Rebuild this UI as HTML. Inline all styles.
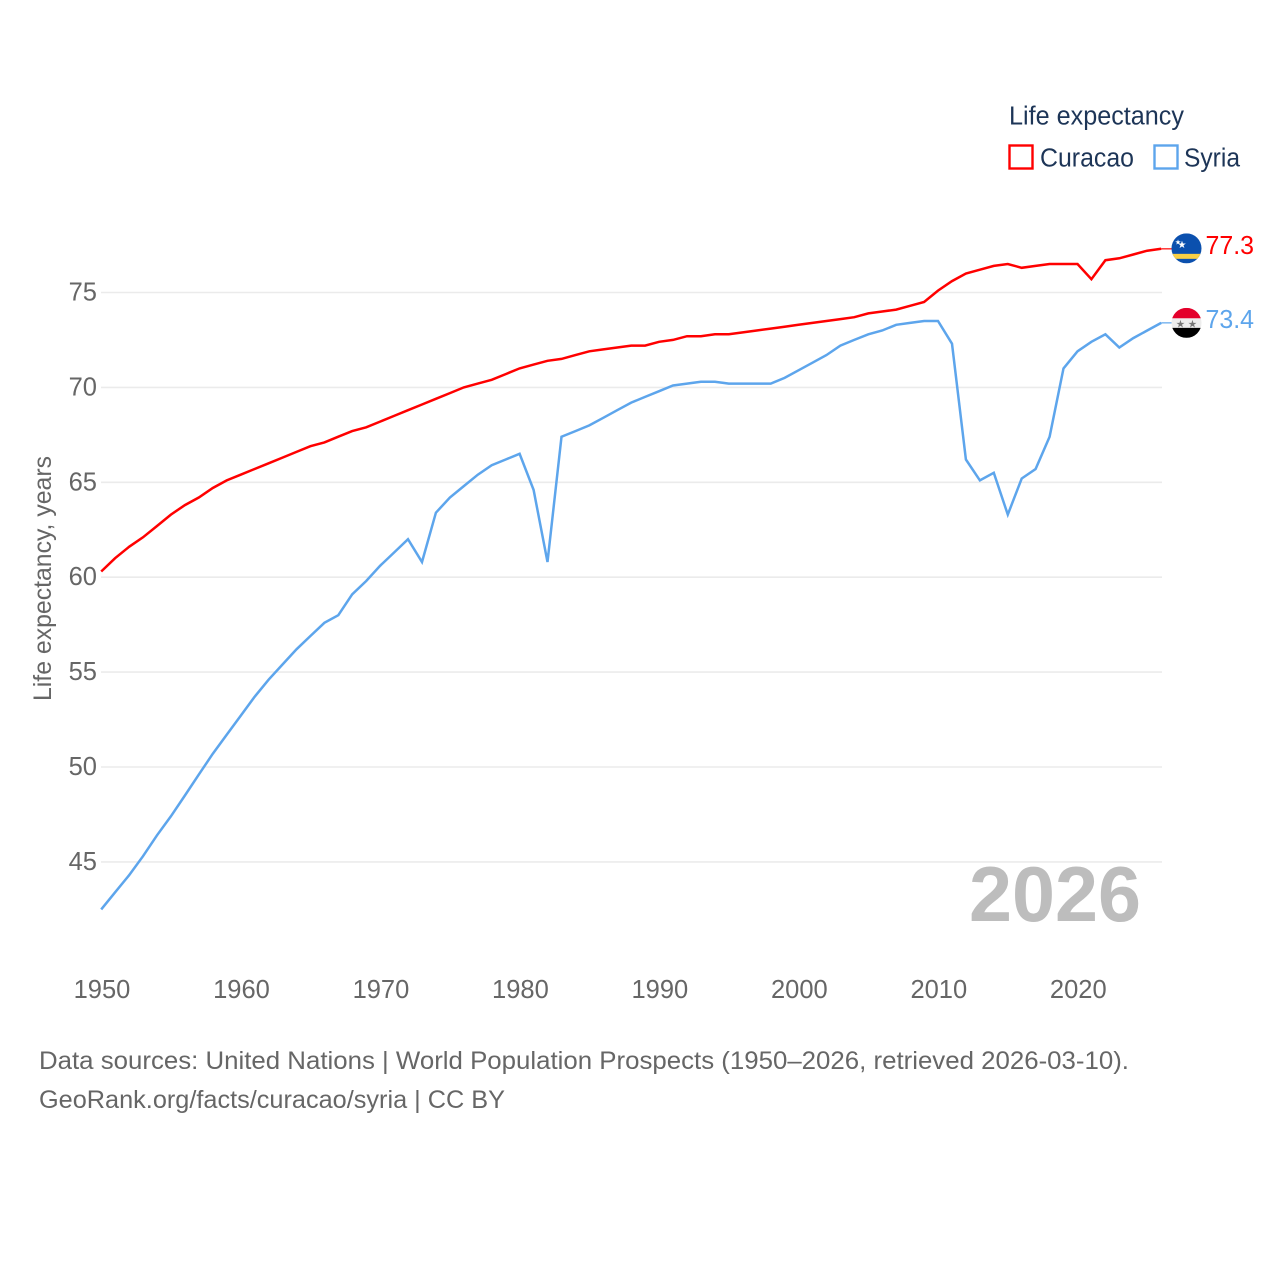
<!DOCTYPE html>
<html lang="en">
<head>
<meta charset="utf-8">
<title>Life expectancy: Curacao and Syria</title>
<style>
html,body{margin:0;padding:0;background:#fff}
svg{display:block}
text{font-family:"Liberation Sans",sans-serif}
</style>
</head>
<body>
<svg id="chart" xmlns="http://www.w3.org/2000/svg" width="1280" height="1280" viewBox="0 0 1280 1280">
  <rect width="1280" height="1280" fill="#fff"/>
  <g id="grid"></g>
  <g id="yticks"></g>
  <g id="xticks"></g>
  <text transform="translate(51,578.5) rotate(-90)" text-anchor="middle" font-size="25" fill="#666" textLength="245" lengthAdjust="spacingAndGlyphs">Life expectancy, years</text>
  <text x="969" y="921" font-size="78" font-weight="700" fill="#bdbdbd" textLength="172" lengthAdjust="spacingAndGlyphs">2026</text>
  <g id="series"></g>

  <g>
    <text x="1009" y="124.5" font-size="25.5" fill="#1d3557" textLength="175" lengthAdjust="spacingAndGlyphs">Life expectancy</text>
    <rect x="1009.5" y="145.5" width="23" height="23" fill="none" stroke="#ff0000" stroke-width="2.4"/>
    <text x="1040" y="166.5" font-size="25.5" fill="#1d3557" textLength="94" lengthAdjust="spacingAndGlyphs">Curacao</text>
    <rect x="1154.5" y="145.5" width="23" height="23" fill="none" stroke="#5da5ec" stroke-width="2.4"/>
    <text x="1184" y="166.5" font-size="25.5" fill="#1d3557" textLength="56" lengthAdjust="spacingAndGlyphs">Syria</text>
  </g>

  <defs>
    <clipPath id="flag-clip-a"><circle cx="0" cy="0" r="15"/></clipPath>
  </defs>

  <g id="flag-curacao">
    <g clip-path="url(#flag-clip-a)">
      <rect x="-15" y="-15" width="30" height="30" fill="#0b50ae"/>
      <rect x="-15" y="5.5" width="30" height="5" fill="#f9d045"/>
      <text x="-4.5" y="-0.5" font-size="10" text-anchor="middle" fill="#fff" style="font-family:'DejaVu Sans',sans-serif">★</text>
      <text x="-8.5" y="-4" font-size="7" text-anchor="middle" fill="#fff" style="font-family:'DejaVu Sans',sans-serif">★</text>
    </g>
  </g>
  <g id="flag-syria">
    <g clip-path="url(#flag-clip-a)">
      <rect x="-15" y="-15" width="30" height="10.5" fill="#e4002b"/>
      <rect x="-15" y="-4.5" width="30" height="10" fill="#ededed"/>
      <rect x="-15" y="5" width="30" height="10" fill="#000"/>
      <text x="-6" y="4.5" font-size="10.5" text-anchor="middle" fill="#777" style="font-family:'DejaVu Sans',sans-serif">★</text>
      <text x="6" y="4.5" font-size="10.5" text-anchor="middle" fill="#777" style="font-family:'DejaVu Sans',sans-serif">★</text>
    </g>
  </g>
  <text id="value-curacao" x="1205.5" font-size="25.5" fill="#ff0000" textLength="48.5" lengthAdjust="spacingAndGlyphs"></text>
  <text id="value-syria" x="1205.5" font-size="25.5" fill="#5da5ec" textLength="48.5" lengthAdjust="spacingAndGlyphs"></text>

  <g>
    <text x="39" y="1069" font-size="25" fill="#666" textLength="1090" lengthAdjust="spacingAndGlyphs">Data sources: United Nations | World Population Prospects (1950–2026, retrieved 2026-03-10).</text>
    <text x="39" y="1108" font-size="25" fill="#666" textLength="466" lengthAdjust="spacingAndGlyphs">GeoRank.org/facts/curacao/syria | CC BY</text>
  </g>
</svg>
<script>
const startYear = 1950;
const curacaoValues = [60.3,61.0,61.6,62.1,62.7,63.3,63.8,64.2,64.7,65.1,
65.4,65.7,66.0,66.3,66.6,66.9,67.1,67.4,67.7,67.9,
68.2,68.5,68.8,69.1,69.4,69.7,70.0,70.2,70.4,70.7,
71.0,71.2,71.4,71.5,71.7,71.9,72.0,72.1,72.2,72.2,
72.4,72.5,72.7,72.7,72.8,72.8,72.9,73.0,73.1,73.2,
73.3,73.4,73.5,73.6,73.7,73.9,74.0,74.1,74.3,74.5,
75.1,75.6,76.0,76.2,76.4,76.5,76.3,76.4,76.5,76.5,
76.5,75.7,76.7,76.8,77.0,77.2,77.3];
const syriaValues = [42.5,43.4,44.3,45.3,46.4,47.4,48.5,49.6,50.7,51.7,
52.7,53.7,54.6,55.4,56.2,56.9,57.6,58.0,59.1,59.8,
60.6,61.3,62.0,60.8,63.4,64.2,64.8,65.4,65.9,66.2,
66.5,64.6,60.8,67.4,67.7,68.0,68.4,68.8,69.2,69.5,
69.8,70.1,70.2,70.3,70.3,70.2,70.2,70.2,70.2,70.5,
70.9,71.3,71.7,72.2,72.5,72.8,73.0,73.3,73.4,73.5,
73.5,72.3,66.2,65.1,65.5,63.3,65.2,65.7,67.4,71.0,
71.9,72.4,72.8,72.1,72.6,73.0,73.4];
const yTickValues = [45,50,55,60,65,70,75];
const xTickYears = [1950,1960,1970,1980,1990,2000,2010,2020];

const NS = 'http://www.w3.org/2000/svg';
const xScale = function (year) { return 101.2 + (year - 1950) * 13.947; };
const yScale = function (v) { return 292.5 + (75 - v) * 18.98; };

const grid = document.getElementById('grid');
const yticks = document.getElementById('yticks');
const xticks = document.getElementById('xticks');
const series = document.getElementById('series');

yTickValues.forEach(function (v) {
  const line = document.createElementNS(NS, 'line');
  
  
  line.setAttribute('x1', 101);
  line.setAttribute('x2', 1162);
  line.setAttribute('y1', yScale(v));
  line.setAttribute('y2', yScale(v));
  line.setAttribute('stroke', '#ebebeb');
  line.setAttribute('stroke-width', '1.6');
  grid.appendChild(line);

  const label = document.createElementNS(NS, 'text');
  
  
  label.setAttribute('x', 97);
  label.setAttribute('y', yScale(v) + 8);
  label.setAttribute('text-anchor', 'end');
  label.setAttribute('font-size', '25.5');
  label.setAttribute('fill', '#666');
  label.textContent = v;
  yticks.appendChild(label);
});

xTickYears.forEach(function (y) {
  const label = document.createElementNS(NS, 'text');
  
  
  label.setAttribute('x', xScale(y) + 0.8);
  label.setAttribute('y', 998);
  label.setAttribute('text-anchor', 'middle');
  label.setAttribute('font-size', '25.5');
  label.setAttribute('fill', '#666');
  label.textContent = y;
  xticks.appendChild(label);
});

function drawLine(values, color, name) {
  const points = values.map(function (v, i) {
    return xScale(startYear + i).toFixed(1) + ',' + yScale(v).toFixed(1);
  });
  const poly = document.createElementNS(NS, 'polyline');
  
  
  poly.setAttribute('points', points.join(' '));
  poly.setAttribute('fill', 'none');
  poly.setAttribute('stroke', color);
  poly.setAttribute('stroke-width', '2.5');
  poly.setAttribute('stroke-linejoin', 'miter');
  series.appendChild(poly);

  const lastY = yScale(values[values.length - 1]);
  const lastX = xScale(startYear + values.length - 1);
  const connector = document.createElementNS(NS, 'line');
  
  
  connector.setAttribute('x1', lastX);
  connector.setAttribute('x2', lastX + 12);
  connector.setAttribute('y1', lastY);
  connector.setAttribute('y2', lastY);
  connector.setAttribute('stroke', color);
  connector.setAttribute('stroke-width', '1.2');
  series.appendChild(connector);
  return lastY;
}

const curacaoEnd = drawLine(curacaoValues, '#ff0000', 'curacao-line');
const syriaEnd = drawLine(syriaValues, '#5da5ec', 'syria-line');

document.getElementById('flag-curacao').setAttribute('transform', 'translate(1186.5,' + (curacaoEnd - 0.5) + ')');
document.getElementById('flag-syria').setAttribute('transform', 'translate(1186.5,' + syriaEnd + ')');

const curacaoLabel = document.getElementById('value-curacao');
curacaoLabel.setAttribute('y', curacaoEnd + 5);
curacaoLabel.textContent = curacaoValues[curacaoValues.length - 1].toFixed(1);
const syriaLabel = document.getElementById('value-syria');
syriaLabel.setAttribute('y', syriaEnd + 5);
syriaLabel.textContent = syriaValues[syriaValues.length - 1].toFixed(1);
</script>
</body>
</html>
